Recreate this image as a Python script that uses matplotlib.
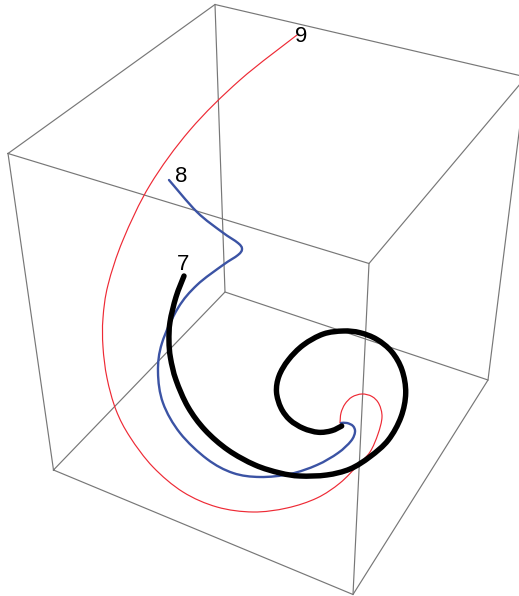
import matplotlib
matplotlib.use("Agg")
import matplotlib.pyplot as plt
from matplotlib.path import Path
from matplotlib.patches import PathPatch

box_top = [(8, 153.5), (215, 4.5), (526, 77), (369, 263.5)]
box_bottom = [(53.5, 470), (225, 292), (488, 380), (353, 594.5)]

curve_7_x = [184,176,170,169,170.5,176,188,205,228,255,280,300,326.7,350,370,388.3,401,405.7,402,391.7,376.7,360,343.3,323.3,303.3,288.3,279,276.5,281,290,303.3,318.3,331.7,341.7]
curve_7_y = [276,297,322,341,358,380,407,430,450,465,473,476,475,469,456.7,440,417,393,370,351.7,339.3,332.7,331,334,345,360,376,392,408,420,428.3,432.3,430.7,426]

curve_8_x = [169,197,222,238,242,238,223,197,178,162,158,163,180,207,233,260,290,317,338,351,355,353,347,341]
curve_8_y = [180,212,232,243,249,255,265,285,308,343,372,403,433,459,473,477,474,465,453,441,432,426,423,423]

curve_9_x = [297,240,190,150,123,108,103,103,107,116,130,153,183,217,253,287,317,340,358,370,378,382,379,372,362,352,345,341,340]
curve_9_y = [35,80,130,185,240,285,318,347,378,410,437,467,492,507,512,508,498,483,465,452,434,417,404,396.5,394,397,404,413,423]

labels = ["7", "8", "9"]
label_x = [183, 181, 301.5]
label_y = [265, 177, 36]

EDGE = "#777777"
fig = plt.figure(figsize=(5.19, 5.96), dpi=100)
ax = fig.add_axes([0, 0, 1, 1])
ax.set_xlim(0, 519)
ax.set_ylim(596, 0)
ax.axis("off")

for ring in (box_top, box_bottom):
    xs = [p[0] for p in ring] + [ring[0][0]]
    ys = [p[1] for p in ring] + [ring[0][1]]
    ax.plot(xs, ys, color=EDGE, lw=0.85, zorder=1)
for a, b in zip(box_top, box_bottom):
    ax.plot([a[0], b[0]], [a[1], b[1]], color=EDGE, lw=0.85, zorder=1)


def smooth_path(xs, ys):
    """Catmull-Rom through the read points, as Bezier segments."""
    pts = list(zip(xs, ys))
    verts, codes = [pts[0]], [Path.MOVETO]
    for i in range(len(pts) - 1):
        p0 = pts[max(i - 1, 0)]
        p1, p2 = pts[i], pts[i + 1]
        p3 = pts[min(i + 2, len(pts) - 1)]
        c1 = (p1[0] + (p2[0] - p0[0]) / 6, p1[1] + (p2[1] - p0[1]) / 6)
        c2 = (p2[0] - (p3[0] - p1[0]) / 6, p2[1] - (p3[1] - p1[1]) / 6)
        verts += [c1, c2, p2]
        codes += [Path.CURVE4] * 3
    return Path(verts, codes)


for xs, ys, col, lw, z in [
    (curve_9_x, curve_9_y, "#EE2A35", 0.85, 2),
    (curve_8_x, curve_8_y, "#3B53A4", 1.7, 3),
    (curve_7_x, curve_7_y, "#000000", 3.9, 4),
]:
    ax.add_patch(PathPatch(smooth_path(xs, ys), fill=False, edgecolor=col, lw=lw,
                           capstyle="round", joinstyle="round", zorder=z))

for s, x, y in zip(labels, label_x, label_y):
    ax.text(x, y, s, fontsize=16, family="Liberation Sans", color="black",
            ha="center", va="center", zorder=5)

fig.savefig("out.png", dpi=100, facecolor="white")
